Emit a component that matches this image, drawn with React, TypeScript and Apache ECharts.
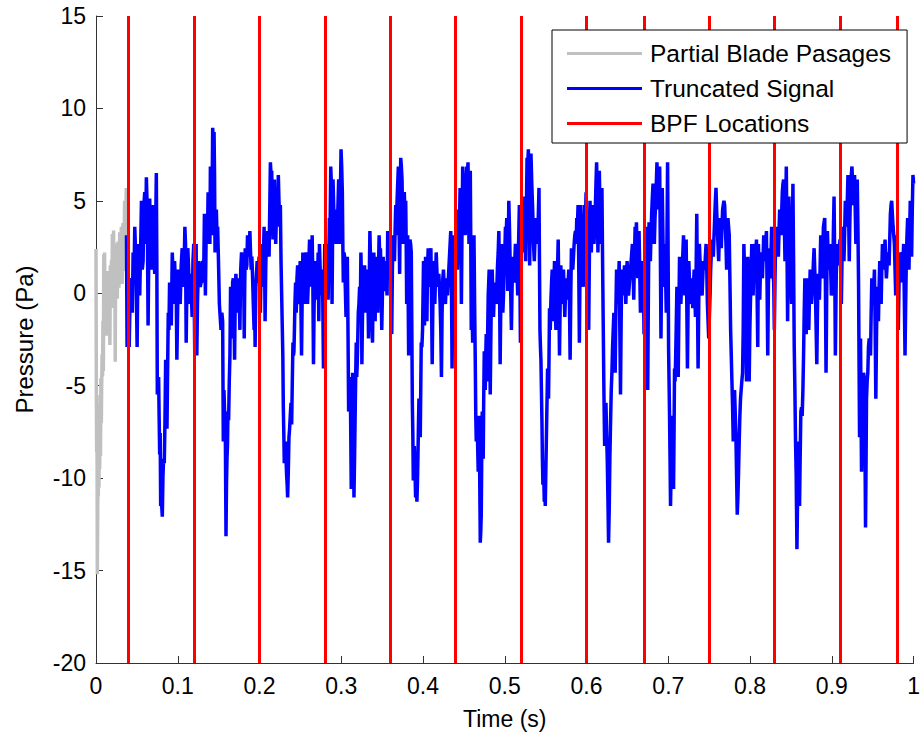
import React, { useEffect, useRef } from "react";
import * as echarts from "echarts";

const FONT = "'Liberation Sans', Arial, Helvetica, sans-serif";

const seriesNames = ["Partial Blade Pasages", "Truncated Signal", "BPF Locations"];
const xTickLabels = ["0", "0.1", "0.2", "0.3", "0.4", "0.5", "0.6", "0.7", "0.8", "0.9", "1"];
const yTickLabels = ["-20", "-15", "-10", "-5", "0", "5", "10", "15"];

const bpfLocations = [0.0375, 0.1225, 0.203, 0.2814, 0.3597, 0.438, 0.5172, 0.5953, 0.6715, 0.7502, 0.8281, 0.9067, 0.985];

const partialSignal: [number, number][] = [
  [0, 2.4], [0.0004, -5], [0.0008, -8.6], [0.0012, -6], [0.0016, -15.2], [0.002, -12.5], [0.0024, -9.5], [0.0028, -11],
  [0.0032, -8.5], [0.0036, -10.5], [0.004, -7.8], [0.0045, -9.5], [0.005, -5.5], [0.0055, -8.8], [0.006, -4.6], [0.0065, -7],
  [0.007, -4.8], [0.0075, -3.3], [0.008, -4.5], [0.0085, -1.5], [0.009, -4.2], [0.0095, 2.1], [0.01, -0.5], [0.0105, 2.2],
  [0.011, -2.2], [0.0115, 1], [0.012, -1.5], [0.0125, 0.8], [0.013, -2.3], [0.0135, 1.2], [0.014, -0.5], [0.015, 0.9],
  [0.0155, -1.2], [0.016, 0.3], [0.017, -2.8], [0.0175, 1.5], [0.018, 0.2], [0.019, 1.8], [0.0195, -0.8], [0.02, 3.2],
  [0.021, 0.4], [0.0215, 3.4], [0.022, -0.5], [0.023, 2.6], [0.0235, -3.7], [0.024, 1.2], [0.025, 2.7], [0.026, -0.3],
  [0.027, 2.8], [0.028, 0.3], [0.029, 3.3], [0.03, 1.4], [0.031, 3.6], [0.032, 0.5], [0.033, 3.8], [0.034, 1.2],
  [0.035, 5.0], [0.036, 2.5], [0.037, 5.7], [0.0375, 3.5],
];

const passage1: [number, number][] = [
  [0.0373, 3.14], [0.038, -2.91], [0.0393, 1.05], [0.0406, -2.91], [0.042, 0.58], [0.0434, 0.81], [0.0444, -1.05], [0.0454, 2.21],
  [0.0464, 0.58], [0.0474, 3.6], [0.0488, 1.74], [0.0503, -2.91], [0.0515, 2.67], [0.0535, -0.12], [0.0545, 2.21], [0.0556, 5.0],
  [0.0566, 1.28], [0.0576, 1.74], [0.0586, 4.77], [0.0596, 5.47], [0.0606, 2.67], [0.0616, 6.28], [0.0627, 4.53], [0.0637, -1.74],
  [0.0647, 2.67], [0.0657, 5.12], [0.0667, 2.21], [0.0677, 1.28], [0.0687, 4.07], [0.0697, 4.77], [0.0707, 2.67], [0.0718, 1.05],
  [0.0728, 3.14], [0.0738, 6.51], [0.0744, 1.74], [0.075, -5.47], [0.0758, -4.77], [0.0766, -4.53], [0.0772, -6.63], [0.0779, -8.72],
  [0.0785, -7.56], [0.0791, -11.51], [0.0801, -11.28], [0.0811, -12.09], [0.0819, -9.88], [0.0827, -8.95], [0.0835, -9.19], [0.0843, -7.09],
  [0.0852, -3.6], [0.086, -4.53], [0.0868, -7.33], [0.0876, -4.07], [0.0884, -1.05], [0.0892, -1.98], [0.09, 0.58], [0.091, -0.58],
  [0.0921, -1.74], [0.0933, 2.21], [0.0943, 0.81], [0.0953, -0.58], [0.0961, 1.74], [0.0969, 0.81], [0.0979, 1.28], [0.0989, -3.6],
  [0.1006, 1.28], [0.1018, -0.12], [0.103, -0.58], [0.1042, 1.51], [0.1054, 2.44], [0.1062, 0.35], [0.1071, 0.81], [0.1079, 1.74],
  [0.1087, 3.6], [0.1095, 2.67], [0.1103, -2.67], [0.1113, 0.81], [0.1123, 2.44], [0.1133, 1.28], [0.1144, -0.58], [0.1152, 0.58],
  [0.116, 1.05], [0.1168, -0.35], [0.1176, -1.28], [0.1186, 1.74], [0.1196, 2.67], [0.1202, -0.58], [0.1208, -3.37], [0.1216, 1.28],
];

const passage2: [number, number][] = [
  [0.1225, 2.67], [0.1233, -3.37], [0.1241, -0.58], [0.1249, 0.81], [0.1257, 1.74], [0.1265, 1.74], [0.1275, 0.35], [0.1285, 0.58],
  [0.1296, 1.51], [0.1306, 1.74], [0.1316, 0.58], [0.1326, 4.3], [0.1338, -0.12], [0.1346, 2.67], [0.1354, 3.14], [0.1362, 2.67],
  [0.1371, 5.47], [0.1379, 4.07], [0.1387, 3.6], [0.1393, 2.67], [0.1399, 6.86], [0.1407, 5.23], [0.1415, 3.14], [0.1421, 5.7],
  [0.1427, 8.95], [0.1435, 8.26], [0.1444, 8.72], [0.145, 6.4], [0.1456, 2.21], [0.1464, 3.84], [0.1472, 4.53], [0.148, 3.14],
  [0.1488, 3.6], [0.1498, 1.74], [0.1509, -0.58], [0.1519, -1.28], [0.1529, -1.98], [0.1539, -1.05], [0.1549, -1.51], [0.1557, -8.02],
  [0.1565, -5.23], [0.1573, -6.4], [0.1582, -7.56], [0.159, -13.14], [0.1596, -10.35], [0.1602, -8.95], [0.1608, -8.26], [0.1614, -6.4],
  [0.1622, -6.86], [0.163, -4.77], [0.1638, -3.37], [0.1646, 0.35], [0.1655, -0.58], [0.1663, -2.44], [0.1671, 0.58], [0.1679, 0.81],
  [0.1687, -0.58], [0.1695, -3.6], [0.1703, -0.12], [0.1711, 1.05], [0.1719, 0.35], [0.1727, -1.05], [0.1736, 0.81], [0.1744, 0.58],
  [0.1752, -0.35], [0.176, -1.98], [0.177, 1.28], [0.178, 2.21], [0.1788, 1.28], [0.1796, 0.81], [0.1805, 1.74], [0.1813, -2.44],
  [0.1819, 0.35], [0.1825, 2.44], [0.1835, 1.28], [0.1845, 1.51], [0.1853, 3.14], [0.1861, 2.67], [0.1871, 1.98], [0.1882, 3.37],
  [0.189, 2.21], [0.1898, 1.28], [0.1906, 1.98], [0.1914, 1.05], [0.1924, -0.58], [0.1934, -1.98], [0.194, -0.58], [0.1946, -2.91],
  [0.1955, 0.35], [0.1963, 1.05], [0.1971, 1.74], [0.1979, 0.58], [0.1987, 1.28], [0.1995, 1.98], [0.2003, 0.81], [0.2011, -1.05],
  [0.2018, 1.28], [0.2024, 2.67], [0.203, 0.35],
];

const passage3: [number, number][] = [
  [0.2036, 0.81], [0.2046, 1.74], [0.2056, 3.6], [0.2062, 1.74], [0.2068, -1.51], [0.2076, 1.28], [0.2084, 3.14], [0.2093, 2.67],
  [0.2101, 3.37], [0.2109, 2.67], [0.2117, 1.98], [0.2125, 4.53], [0.2133, 7.09], [0.2141, 6.4], [0.2149, 6.63], [0.2157, 4.77],
  [0.2165, 2.91], [0.2173, 4.53], [0.2182, 6.16], [0.219, 4.53], [0.2198, 2.67], [0.2206, 4.07], [0.2214, 5.47], [0.2222, 4.53],
  [0.223, 6.4], [0.2238, 5.0], [0.2247, 3.6], [0.2255, 4.77], [0.2263, 1.74], [0.2271, -0.12], [0.2279, -1.98], [0.2285, -3.37],
  [0.2291, -6.16], [0.2297, -7.56], [0.2303, -9.19], [0.2312, -8.72], [0.232, -8.02], [0.2326, -9.19], [0.2332, -9.88], [0.2338, -10.35],
  [0.2344, -11.05], [0.2352, -9.65], [0.236, -7.79], [0.2368, -7.33], [0.2376, -6.63], [0.2385, -5.93], [0.2393, -7.09], [0.2401, -4.77],
  [0.2409, -2.67], [0.2415, -3.37], [0.2421, -3.14], [0.2427, -1.98], [0.2433, -0.58], [0.2441, 0.58], [0.2449, -1.05], [0.2458, 0.81],
  [0.2466, 1.51], [0.2474, -0.58], [0.2482, -0.12], [0.249, 1.05], [0.2498, 1.74], [0.2506, -0.58], [0.2514, -3.37], [0.2522, -0.12],
  [0.253, 2.21], [0.2538, 1.28], [0.2547, -0.58], [0.2555, 0.81], [0.2563, 1.28], [0.2571, 2.21], [0.2579, 1.51], [0.2587, -0.58],
  [0.2595, 0.35], [0.2604, 1.74], [0.2612, 2.91], [0.262, 1.51], [0.2628, 2.67], [0.2636, 0.35], [0.2644, 3.14], [0.2652, 0.81],
  [0.266, -3.84], [0.2668, -0.58], [0.2676, 0.35], [0.2685, 1.74], [0.2693, -0.35], [0.2701, 1.28], [0.2709, 0.35], [0.2717, 2.21],
  [0.2725, -1.51],
];

const passage4: [number, number][] = [
  [0.2733, 2.67], [0.2745, 0.81], [0.2757, -0.12], [0.277, 1.28], [0.2782, -4.07], [0.279, -0.58], [0.2798, 2.67], [0.2806, 2.21],
  [0.2814, 0.81], [0.2826, 2.67], [0.2839, -0.35], [0.2847, 1.74], [0.2855, 4.07], [0.2863, 3.6], [0.2871, 6.86], [0.2879, 5.93],
  [0.2887, -0.58], [0.2893, 2.67], [0.2899, 6.16], [0.2907, 4.77], [0.2916, 3.14], [0.2924, 2.67], [0.2932, 4.53], [0.294, 3.6],
  [0.2948, 2.67], [0.2958, 4.53], [0.2968, 6.16], [0.2977, 5.47], [0.2985, 2.67], [0.2991, 5.93], [0.2997, 7.79], [0.3005, 6.86],
  [0.3013, 5.47], [0.3019, 2.67], [0.3025, 0.58], [0.3033, 2.21], [0.3041, 1.98], [0.3049, 0.35], [0.3058, -1.28], [0.3066, -0.12],
  [0.3074, 1.98], [0.3082, -1.98], [0.309, -6.4], [0.3098, -5.93], [0.3106, -4.53], [0.3114, -6.63], [0.3122, -10.58], [0.313, -7.56],
  [0.3139, -4.3], [0.3147, -6.16], [0.3155, -11.05], [0.3163, -8.72], [0.3171, -6.16], [0.3177, -4.3], [0.3183, -2.67], [0.3189, -4.53],
  [0.3195, -3.84], [0.3202, -2.44], [0.3208, -1.05], [0.3216, -0.58], [0.3224, 0.35], [0.3232, -1.05], [0.324, 2.21], [0.3246, 0.81],
  [0.3252, -3.84], [0.326, -1.05], [0.3268, -0.58], [0.3276, 0.58], [0.3285, 1.51], [0.3293, -0.12], [0.3301, -1.05], [0.3309, 1.28],
  [0.3317, -0.12], [0.3325, 0.58], [0.3333, -2.44], [0.3341, 0.35], [0.335, 3.37], [0.3358, 1.74], [0.3366, -0.58], [0.3374, -1.51],
  [0.3382, -2.67], [0.339, 0.58], [0.3398, 2.21], [0.3406, 0.81], [0.3414, -1.51], [0.3422, 0.81], [0.3431, 1.98], [0.3439, 0.58],
  [0.3447, -1.05], [0.3455, 1.28], [0.3463, 3.14], [0.3471, 1.74], [0.3479, 2.44], [0.3487, 0.58], [0.3495, -1.98], [0.3503, -0.12],
  [0.3512, 1.98], [0.352, 0.81], [0.3528, 0.12], [0.3536, 0.81], [0.3544, 1.74], [0.3552, 0.81], [0.356, -0.12], [0.3568, 3.37],
  [0.3576, 2.21], [0.3585, 0.81], [0.3593, 1.74],
];

const passage5: [number, number][] = [
  [0.3601, 2.67], [0.3609, 0.35], [0.3617, -2.21], [0.3625, 1.28], [0.3633, 3.14], [0.3642, 2.21], [0.365, 1.74], [0.3658, 3.37],
  [0.3666, 4.77], [0.3674, 3.14], [0.3682, 5.0], [0.369, 5.93], [0.3698, 6.86], [0.3706, 4.07], [0.3714, 1.05], [0.372, 4.53],
  [0.3727, 7.33], [0.3735, 6.86], [0.3743, 6.16], [0.3749, 4.53], [0.3755, 2.67], [0.3763, 4.53], [0.3771, 5.47], [0.3779, 4.07],
  [0.3788, 5.0], [0.3794, 2.67], [0.38, -0.58], [0.3806, 1.28], [0.3812, 3.14], [0.3818, -0.12], [0.3824, -3.37], [0.3832, 0.81],
  [0.384, 2.91], [0.3848, 2.67], [0.3856, 2.21], [0.3863, -1.98], [0.3869, -5.93], [0.3875, -7.56], [0.3881, -10.12], [0.3887, -8.95],
  [0.3893, -8.26], [0.3901, -9.42], [0.3909, -11.05], [0.3917, -9.88], [0.3925, -11.28], [0.3931, -10.35], [0.3938, -8.72], [0.3944, -7.09],
  [0.395, -5.7], [0.3958, -6.63], [0.3966, -7.79], [0.3972, -5.23], [0.3978, -2.67], [0.3986, -2.91], [0.3994, -1.98], [0.4, -0.12],
  [0.4006, 1.74], [0.4012, -0.12], [0.4018, -1.74], [0.4024, 0.35], [0.4031, 1.98], [0.4039, 0.35], [0.4047, -1.51], [0.4055, 1.28],
  [0.4063, 2.44], [0.4071, 1.28], [0.4079, 0.35], [0.4087, 1.74], [0.4096, 2.44], [0.4104, -0.58], [0.4112, -3.84], [0.412, -0.58],
  [0.4128, 1.74], [0.4136, 0.81], [0.4144, -0.58], [0.4152, 0.81], [0.4161, 2.21], [0.4169, 1.28], [0.4177, 0.35], [0.4185, 0.58],
  [0.4193, 1.05], [0.4201, 0.35], [0.4209, -0.58], [0.4217, -1.98], [0.4225, -4.53], [0.4233, -1.05], [0.4242, 0.81], [0.425, 1.28],
  [0.4258, 0.35], [0.4266, -0.12], [0.4274, -0.58], [0.4282, 0.35], [0.429, 0.81], [0.4299, -0.12], [0.4307, 0.58], [0.4315, 1.28],
  [0.4323, 1.98], [0.4331, 2.67], [0.4339, 3.37], [0.4347, 0.81], [0.4355, -4.07], [0.4361, -0.58], [0.4367, 3.14], [0.4377, 2.21],
];

const passage6: [number, number][] = [
  [0.4388, 1.28], [0.4396, 2.21], [0.4404, 3.14], [0.4412, 1.74], [0.442, 1.28], [0.4428, 3.14], [0.4436, 4.53], [0.4445, 3.6],
  [0.4453, 5.7], [0.4461, 3.6], [0.4469, -0.58], [0.4477, 3.6], [0.4485, 6.86], [0.4493, 5.93], [0.4501, 5.23], [0.4509, 3.6],
  [0.4517, 3.14], [0.4526, 5.47], [0.4534, 6.86], [0.4542, 6.4], [0.455, 7.09], [0.4556, 5.0], [0.4562, 2.67], [0.457, 5.23],
  [0.4578, 6.63], [0.4584, 2.67], [0.459, -1.98], [0.4599, -0.58], [0.4607, -2.67], [0.4615, 0.81], [0.4623, 3.14], [0.4631, -0.58],
  [0.4639, -3.84], [0.4645, -6.63], [0.4651, -8.02], [0.4657, -7.33], [0.4663, -6.86], [0.4669, -8.49], [0.4675, -9.65], [0.4682, -8.02],
  [0.4688, -6.63], [0.4694, -10.35], [0.47, -13.49], [0.4706, -12.91], [0.4712, -11.98], [0.4718, -8.72], [0.4724, -6.4], [0.473, -7.56],
  [0.4736, -8.95], [0.4742, -5.7], [0.4749, -3.14], [0.4755, -4.3], [0.4761, -5.23], [0.4767, -3.37], [0.4773, -2.21], [0.4779, -3.6],
  [0.4785, -4.77], [0.4791, -1.98], [0.4797, -0.12], [0.4803, 0.58], [0.4809, 1.28], [0.4815, -1.98], [0.4822, -5.47], [0.4828, -2.91],
  [0.4834, -0.81], [0.484, 0.58], [0.4846, 1.28], [0.4854, -0.12], [0.4862, -1.28], [0.487, -0.12], [0.4878, 0.58], [0.4886, -0.12],
  [0.4894, -0.58], [0.4903, 0.35], [0.4911, 1.51], [0.4919, 2.21], [0.4927, 3.37], [0.4935, 0.81], [0.4943, -3.84], [0.4951, -0.58],
  [0.4959, 2.67], [0.4968, 1.28], [0.4976, -1.05], [0.4984, -0.12], [0.4992, 1.28], [0.5, 2.21], [0.5008, 3.6], [0.5016, 3.14],
  [0.5024, 4.07], [0.503, 2.21], [0.5036, 0.12], [0.5043, 2.67], [0.5049, 5.0], [0.5057, 3.6], [0.5065, 1.74], [0.5073, -0.12],
  [0.5081, -1.98], [0.5089, 0.35], [0.5097, 1.98], [0.5106, 1.28], [0.5114, 0.58], [0.5122, 1.74], [0.513, 2.67], [0.5138, 2.21],
  [0.5146, 1.74], [0.5152, 0.81], [0.5158, -0.12], [0.5166, 2.21],
];

const passage7: [number, number][] = [
  [0.5178, 4.77], [0.5191, -2.67], [0.5199, 1.74], [0.5207, 4.77], [0.5215, 3.14], [0.5223, 2.21], [0.5231, 4.07], [0.5239, 5.23],
  [0.5247, 3.6], [0.5255, 1.74], [0.5264, 4.53], [0.5272, 7.33], [0.528, 6.86], [0.5288, 7.79], [0.5296, 5.23], [0.5304, 1.51],
  [0.5312, 4.53], [0.532, 7.56], [0.533, 5.93], [0.5341, 4.53], [0.5351, 2.67], [0.5361, 1.74], [0.5371, 3.14], [0.5381, 4.07],
  [0.5391, 2.67], [0.5401, 3.14], [0.5409, 4.07], [0.5418, 5.7], [0.5424, 1.74], [0.543, -1.98], [0.5436, -2.91], [0.5442, -3.6],
  [0.5448, -5.23], [0.5454, -6.86], [0.546, -8.95], [0.5466, -10.35], [0.5474, -9.42], [0.5483, -11.28], [0.5489, -10.35], [0.5495, -11.51],
  [0.5501, -9.88], [0.5507, -8.26], [0.5515, -6.16], [0.5523, -4.07], [0.5529, -4.77], [0.5535, -5.7], [0.5541, -3.37], [0.5547, -0.81],
  [0.5556, -1.98], [0.5564, -0.35], [0.5572, 0.58], [0.558, 1.28], [0.5586, -0.12], [0.5592, -1.51], [0.56, 0.35], [0.5608, 1.74],
  [0.5616, -0.58], [0.5625, -1.98], [0.5633, -0.58], [0.5641, 0.35], [0.5647, 1.74], [0.5653, 2.91], [0.5661, -0.12], [0.5669, -3.37],
  [0.5677, -0.58], [0.5685, 1.51], [0.5694, 0.35], [0.5702, -0.58], [0.571, 0.35], [0.5718, 1.28], [0.5726, -0.12], [0.5734, -1.28],
  [0.5742, -0.12], [0.575, 0.81], [0.5758, 0.35], [0.5766, -0.35], [0.5774, 0.58], [0.5783, 1.28], [0.5791, -0.58], [0.5799, -3.6],
  [0.5807, -0.12], [0.5815, 2.44], [0.5823, 1.74], [0.5831, 1.28], [0.584, 1.98], [0.5848, 2.67], [0.5856, 3.14], [0.5864, 3.37],
  [0.5872, 2.67], [0.588, 4.07], [0.5888, 3.6], [0.5896, 4.77], [0.5904, 1.74], [0.5912, -2.67], [0.592, 1.28], [0.5929, 4.77],
  [0.5937, 3.37], [0.5945, 1.74],
];

const passage8: [number, number][] = [
  [0.5953, 1.28], [0.5961, 0.35], [0.5969, 2.67], [0.5977, 4.77], [0.5985, 3.6], [0.5994, 5.47], [0.6002, 3.14], [0.601, 0.58],
  [0.6018, -0.58], [0.6026, -1.98], [0.6034, 1.74], [0.6042, 5.0], [0.605, 3.6], [0.6058, 2.21], [0.6066, 3.6], [0.6075, 4.77],
  [0.6083, 3.6], [0.6091, 2.67], [0.6099, 3.6], [0.6107, 4.53], [0.6115, 5.93], [0.6123, 7.09], [0.6131, 5.23], [0.6139, 2.21],
  [0.6147, 5.0], [0.6156, 6.63], [0.6164, 4.77], [0.6172, 2.67], [0.618, 4.53], [0.6188, 5.7], [0.6196, 1.74], [0.6204, -1.74],
  [0.6212, -5.23], [0.6221, -8.26], [0.6229, -7.09], [0.6237, -5.93], [0.6245, -7.56], [0.6253, -8.95], [0.6261, -11.05], [0.6269, -13.49],
  [0.6277, -11.74], [0.6285, -8.95], [0.6293, -7.09], [0.6302, -5.23], [0.631, -4.3], [0.6318, -2.91], [0.6326, -1.98], [0.6334, -1.05],
  [0.6342, -2.67], [0.635, -4.3], [0.6358, -1.05], [0.6367, 1.28], [0.6375, 0.35], [0.6383, -0.58], [0.6391, 0.58], [0.6399, 1.74],
  [0.6407, -1.98], [0.6415, -5.47], [0.6423, -1.51], [0.6431, 1.28], [0.644, 0.58], [0.6448, -0.12], [0.6456, 0.81], [0.6464, 1.51],
  [0.6472, 0.58], [0.648, -0.58], [0.6488, 0.58], [0.6496, 1.74], [0.6505, 0.81], [0.6513, -0.12], [0.6521, 0.35], [0.6529, 0.81],
  [0.6537, 1.28], [0.6545, 1.74], [0.6553, 2.21], [0.6561, 2.67], [0.6569, 1.28], [0.6577, -0.35], [0.6585, 1.74], [0.6594, 3.6],
  [0.6602, 2.67], [0.661, 3.84], [0.6618, 2.21], [0.6626, 0.81], [0.6634, 2.21], [0.6642, 3.37], [0.665, 1.28], [0.6659, -1.05],
  [0.6667, -0.58], [0.6675, -0.35], [0.6683, 0.81], [0.6691, 1.74], [0.6697, -0.12], [0.6703, -2.21], [0.6709, 0.81],
];

const passage9: [number, number][] = [
  [0.6723, 2.67], [0.6732, 3.6], [0.674, -0.58], [0.6748, -5.23], [0.6756, -0.12], [0.6764, 3.84], [0.6772, 2.67], [0.678, 1.74],
  [0.6788, 3.14], [0.6796, 4.3], [0.6805, 5.23], [0.6813, 5.93], [0.6821, 4.53], [0.6829, 2.67], [0.6837, 4.07], [0.6845, 4.77],
  [0.6853, 5.93], [0.6861, 7.09], [0.6869, 5.93], [0.6877, 4.53], [0.6886, 5.7], [0.6894, 6.86], [0.6902, 2.67], [0.691, -2.44],
  [0.6918, 1.28], [0.6926, 5.7], [0.6934, 3.14], [0.6942, 0.35], [0.6951, 1.28], [0.6959, 2.67], [0.6967, 0.81], [0.6975, -1.05],
  [0.6983, 2.91], [0.6991, 7.09], [0.6997, 2.67], [0.7003, -2.91], [0.7009, -4.77], [0.7015, -6.63], [0.7021, -8.95], [0.7027, -11.51],
  [0.7033, -9.88], [0.7039, -7.56], [0.7045, -6.63], [0.7052, -6.86], [0.7058, -8.49], [0.7064, -10.58], [0.707, -7.56], [0.7076, -4.07],
  [0.7082, -4.77], [0.7088, -3.84], [0.7096, -1.98], [0.7105, 0.35], [0.7113, -1.98], [0.7121, -4.53], [0.7129, -1.05], [0.7137, 1.98],
  [0.7145, 0.58], [0.7153, -0.58], [0.7161, 0.35], [0.717, 1.28], [0.7178, 2.21], [0.7186, 3.14], [0.7194, 1.51], [0.7202, -0.12],
  [0.721, 1.74], [0.7218, 2.91], [0.7226, -0.58], [0.7234, -4.07], [0.7242, -0.58], [0.7251, 1.74], [0.7259, 0.58], [0.7267, -0.58],
  [0.7275, 0.12], [0.7283, 0.81], [0.7291, -0.12], [0.7299, -0.81], [0.7307, 0.35], [0.7316, 1.28], [0.7324, -0.12], [0.7332, -1.28],
  [0.734, 1.28], [0.7348, 4.3], [0.7356, -0.12], [0.7364, -4.07], [0.7372, -0.58], [0.738, 2.67], [0.7388, 1.74], [0.7397, 0.81],
  [0.7405, 0.35], [0.7413, -0.12], [0.7421, 0.81], [0.7429, 1.74], [0.7437, 1.51], [0.7445, 1.28], [0.7453, 1.98], [0.7462, 2.67],
  [0.747, 1.28], [0.7478, -0.58], [0.7486, -1.51], [0.7494, -2.44],
];

const passage10: [number, number][] = [
  [0.751, -0.12], [0.7518, 1.28], [0.7526, 2.21], [0.7534, 2.91], [0.7542, 2.44], [0.7551, 1.98], [0.7559, 3.14], [0.7567, 4.07],
  [0.7575, 5.0], [0.7583, 5.7], [0.7591, 4.53], [0.7599, 3.6], [0.7607, 2.67], [0.7616, 1.74], [0.7624, 3.14], [0.7632, 4.07],
  [0.764, 3.14], [0.7648, 2.44], [0.7656, 3.6], [0.7664, 4.53], [0.7672, 4.77], [0.768, 5.0], [0.7689, 4.77], [0.7697, 4.77],
  [0.7705, 2.67], [0.7713, 1.28], [0.7721, 2.67], [0.7729, 4.07], [0.7737, 3.6], [0.7745, 3.14], [0.7753, 0.81], [0.7762, -1.98],
  [0.777, -3.37], [0.7778, -4.77], [0.7786, -6.16], [0.7794, -8.02], [0.7802, -6.63], [0.781, -5.23], [0.7818, -6.4], [0.7826, -7.56],
  [0.7835, -9.88], [0.7843, -11.98], [0.7851, -11.05], [0.7859, -9.65], [0.7867, -8.02], [0.7875, -6.63], [0.7883, -5.7], [0.7891, -5.23],
  [0.7899, -4.77], [0.7908, -4.3], [0.7916, -1.98], [0.7924, 2.67], [0.7932, 1.28], [0.794, 0.35], [0.7948, -1.98], [0.7956, -4.77],
  [0.7964, -1.05], [0.7972, 1.98], [0.7981, -0.58], [0.7989, -4.77], [0.7997, -1.98], [0.8005, -0.35], [0.8013, 1.28], [0.8021, 2.67],
  [0.8029, 1.28], [0.8037, -0.12], [0.8045, 1.28], [0.8054, 2.21], [0.8062, 2.67], [0.807, 1.74], [0.8078, 2.91], [0.8086, -0.12],
  [0.8094, -2.91], [0.8102, 2.67], [0.811, 1.28], [0.8118, -0.35], [0.8127, 1.28], [0.8135, 2.21], [0.8143, 1.51], [0.8151, 0.81],
  [0.8159, 1.98], [0.8167, 3.14], [0.8175, 2.44], [0.8183, 1.74], [0.8191, 2.67], [0.82, 3.37], [0.8208, 0.35], [0.8216, -3.37],
  [0.8224, 0.35], [0.8232, 2.44], [0.824, 1.74], [0.8248, 0.81], [0.8256, 2.21], [0.8264, 3.6], [0.8273, 1.74],
];

const passage11: [number, number][] = [
  [0.8289, 0.58], [0.8297, -1.98], [0.8305, 0.81], [0.8313, 3.14], [0.8321, 2.67], [0.8329, 3.6], [0.8337, 2.67], [0.8346, 1.98],
  [0.8354, 3.37], [0.8362, 4.53], [0.837, 3.84], [0.8378, 3.14], [0.8386, 4.3], [0.8394, 5.47], [0.8402, 5.93], [0.841, 6.16],
  [0.8418, 4.07], [0.8427, 1.74], [0.8435, 4.53], [0.8443, 6.86], [0.8451, 2.67], [0.8459, -1.51], [0.8467, 1.74], [0.8475, 5.23],
  [0.8483, 3.6], [0.8491, 1.51], [0.85, 0.58], [0.8508, -0.58], [0.8516, 2.67], [0.8524, 5.93], [0.8532, 1.74], [0.854, -2.91],
  [0.8548, -5.23], [0.8556, -8.02], [0.8564, -9.88], [0.8573, -13.84], [0.8581, -11.05], [0.8589, -8.02], [0.8597, -9.65], [0.8605, -11.51],
  [0.8613, -8.72], [0.8621, -6.4], [0.8629, -6.16], [0.8637, -6.63], [0.8646, -5.23], [0.8654, -3.37], [0.8662, -1.05], [0.867, 0.81],
  [0.8678, -0.58], [0.8686, -2.21], [0.8694, -0.58], [0.8702, 0.81], [0.871, -0.58], [0.8718, -1.98], [0.8727, -0.12], [0.8735, 1.28],
  [0.8743, 0.35], [0.8751, -0.58], [0.8759, 0.12], [0.8767, 0.81], [0.8775, 1.74], [0.8783, 2.44], [0.8791, 1.28], [0.88, -0.12],
  [0.8808, -1.98], [0.8816, -3.84], [0.8824, -1.05], [0.8832, 1.05], [0.884, 0.35], [0.8848, -0.35], [0.8856, 1.28], [0.8864, 3.14],
  [0.8873, 1.74], [0.8881, 0.81], [0.8889, 2.21], [0.8897, 3.6], [0.8905, 3.84], [0.8913, 4.07], [0.8921, 0.58], [0.8929, -4.3],
  [0.8937, -0.12], [0.8946, 3.37], [0.8954, 2.21], [0.8962, 1.28], [0.897, 1.98], [0.8978, 2.67], [0.8986, 1.28], [0.8994, -0.12],
  [0.9002, 0.35], [0.901, 0.81], [0.9018, 3.14], [0.9027, 5.23], [0.9035, 1.74], [0.9043, -3.37], [0.9051, -0.12], [0.9059, 2.67],
];

const passage12: [number, number][] = [
  [0.9075, 2.21], [0.9083, 1.51], [0.9091, 2.44], [0.91, 2.91], [0.9108, 1.28], [0.9116, -0.58], [0.9124, 1.74], [0.9132, 3.6],
  [0.914, 2.67], [0.9148, 1.74], [0.9157, 3.37], [0.9165, 5.0], [0.9173, 4.3], [0.9181, 3.6], [0.9189, 5.0], [0.9197, 6.4],
  [0.9205, 4.53], [0.9213, 1.74], [0.9221, 4.07], [0.9229, 5.7], [0.9238, 6.4], [0.9246, 6.86], [0.9254, 5.93], [0.9262, 4.77],
  [0.927, 5.93], [0.9278, 6.4], [0.9286, 4.53], [0.9294, 2.67], [0.9302, 4.53], [0.9311, 6.16], [0.9319, 3.6], [0.9327, 0.35],
  [0.9333, -3.84], [0.9339, -7.79], [0.9345, -5.23], [0.9351, -2.44], [0.9357, -6.16], [0.9363, -9.65], [0.9369, -7.56], [0.9375, -5.7],
  [0.9381, -4.77], [0.9388, -4.3], [0.9394, -4.53], [0.94, -4.77], [0.9406, -8.72], [0.9412, -12.67], [0.9418, -9.42], [0.9424, -5.7],
  [0.9432, -4.77], [0.944, -4.3], [0.9448, -2.91], [0.9457, -2.44], [0.9465, -2.91], [0.9473, -3.37], [0.9481, -1.05], [0.9489, 0.81],
  [0.9497, 0.12], [0.9505, -0.58], [0.9513, 0.35], [0.9521, 1.28], [0.953, -1.98], [0.9538, -5.7], [0.9546, -2.44], [0.9554, 0.35],
  [0.9562, -0.58], [0.957, -1.51], [0.9578, 0.35], [0.9586, 1.74], [0.9594, 0.58], [0.9603, -0.58], [0.9611, 1.28], [0.9619, 2.67],
  [0.9627, 1.98], [0.9635, 1.28], [0.9643, 2.21], [0.9651, 2.91], [0.9659, 1.74], [0.9667, 0.81], [0.9676, 1.51], [0.9684, 2.21],
  [0.9692, 1.74], [0.97, 1.51], [0.9708, 2.91], [0.9716, 4.3], [0.9724, 4.77], [0.9732, 5.0], [0.974, 4.3], [0.9749, 3.6],
  [0.9757, 3.14], [0.9765, 2.67], [0.9773, 1.28], [0.9781, -0.12], [0.9789, 1.74], [0.9797, 3.14], [0.9805, 0.58], [0.9813, -1.98],
  [0.9821, 0.35], [0.983, 2.21], [0.9838, 1.74], [0.9846, 1.28],
];

const passage13: [number, number][] = [
  [0.9854, 2.21], [0.9862, 0.58], [0.987, 1.74], [0.9878, 2.67], [0.9886, -0.12], [0.9895, -3.37], [0.9903, -0.58], [0.9911, 1.74],
  [0.9919, 3.14], [0.9927, 4.07], [0.9935, 2.67], [0.9943, 1.28], [0.9951, 3.14], [0.9959, 5.0], [0.9967, 3.6], [0.9976, 1.98],
  [0.9984, 4.53], [0.9992, 6.4], [1.0, 5.93],
];

const truncatedSignal: [number, number][] = [
  ...passage1, ...passage2, ...passage3, ...passage4, ...passage5, ...passage6, ...passage7,
  ...passage8, ...passage9, ...passage10, ...passage11, ...passage12, ...passage13,
];

export default function App() {
  const ref = useRef<HTMLDivElement>(null);

  useEffect(() => {
    if (!ref.current) return;
    const chart = echarts.init(ref.current, undefined, { renderer: "svg" });
    const axisColor = "#333333";
    const option: any = {
      animation: false,
      backgroundColor: "#ffffff",
      textStyle: { fontFamily: FONT },
      grid: { left: 96, right: 5, top: 16, bottom: 74, containLabel: false },
      legend: {
        orient: "vertical",
        left: 552,
        top: 30,
        z: 50,
        zlevel: 0,
        data: seriesNames,
        icon: "rect",
        itemWidth: 75,
        itemHeight: 3,
        itemGap: 10,
        padding: [11, 16, 7, 15],
        borderColor: "#000000",
        borderWidth: 1,
        borderRadius: 0,
        backgroundColor: "#ffffff",
        selectedMode: false,
        textStyle: { fontSize: 24.5, color: "#000000", fontFamily: FONT, padding: [0, 0, 0, 3] },
      },
      xAxis: {
        type: "value",
        min: 0,
        max: 1,
        interval: 0.1,
        name: "Time (s)",
        nameLocation: "middle",
        nameGap: 44,
        nameTextStyle: { fontSize: 23, color: "#000000", fontFamily: FONT },
        axisLine: { show: true, onZero: false, lineStyle: { color: axisColor, width: 1 } },
        axisTick: { show: true, inside: true, length: 7, lineStyle: { color: axisColor } },
        axisLabel: {
          fontSize: 23,
          color: "#000000",
          fontFamily: FONT,
          margin: 11,
          formatter: (v: number) => xTickLabels[Math.round(v * 10)] ?? String(v),
        },
        splitLine: { show: false },
      },
      yAxis: {
        type: "value",
        min: -20,
        max: 15,
        interval: 5,
        name: "Pressure (Pa)",
        nameLocation: "middle",
        nameGap: 60,
        nameTextStyle: { fontSize: 24, color: "#000000", fontFamily: FONT },
        axisLine: { show: true, onZero: false, lineStyle: { color: axisColor, width: 1 } },
        axisTick: { show: true, inside: true, length: 7, lineStyle: { color: axisColor } },
        axisLabel: {
          fontSize: 23,
          color: "#000000",
          fontFamily: FONT,
          margin: 10,
          formatter: (v: number) => yTickLabels[Math.round((v + 20) / 5)] ?? String(v),
        },
        splitLine: { show: false },
      },
      series: [
        {
          name: seriesNames[0],
          type: "line",
          data: partialSignal,
          showSymbol: false,
          symbol: "none",
          color: "#c0c0c0",
          lineStyle: { color: "#c0c0c0", width: 3.5 },
          z: 2,
        },
        {
          name: seriesNames[1],
          type: "line",
          data: truncatedSignal,
          showSymbol: false,
          symbol: "none",
          color: "#0000ff",
          lineStyle: { color: "#0000ff", width: 3.5 },
          z: 3,
        },
        {
          name: seriesNames[2],
          type: "line",
          data: [],
          showSymbol: false,
          symbol: "none",
          color: "#ff0000",
          lineStyle: { color: "#ff0000", width: 3 },
          z: 4,
          markLine: {
            silent: true,
            symbol: "none",
            label: { show: false },
            lineStyle: { color: "#ff0000", width: 3, type: "solid" },
            emphasis: { disabled: true },
            data: bpfLocations.map((x) => ({ xAxis: x })),
          },
        },
      ],
    };
    chart.setOption(option);
    return () => chart.dispose();
  }, []);

  return (
    <div
      ref={ref}
      style={{ position: "absolute", left: 0, top: 0, width: 923, height: 737, background: "#fff" }}
    />
  );
}
